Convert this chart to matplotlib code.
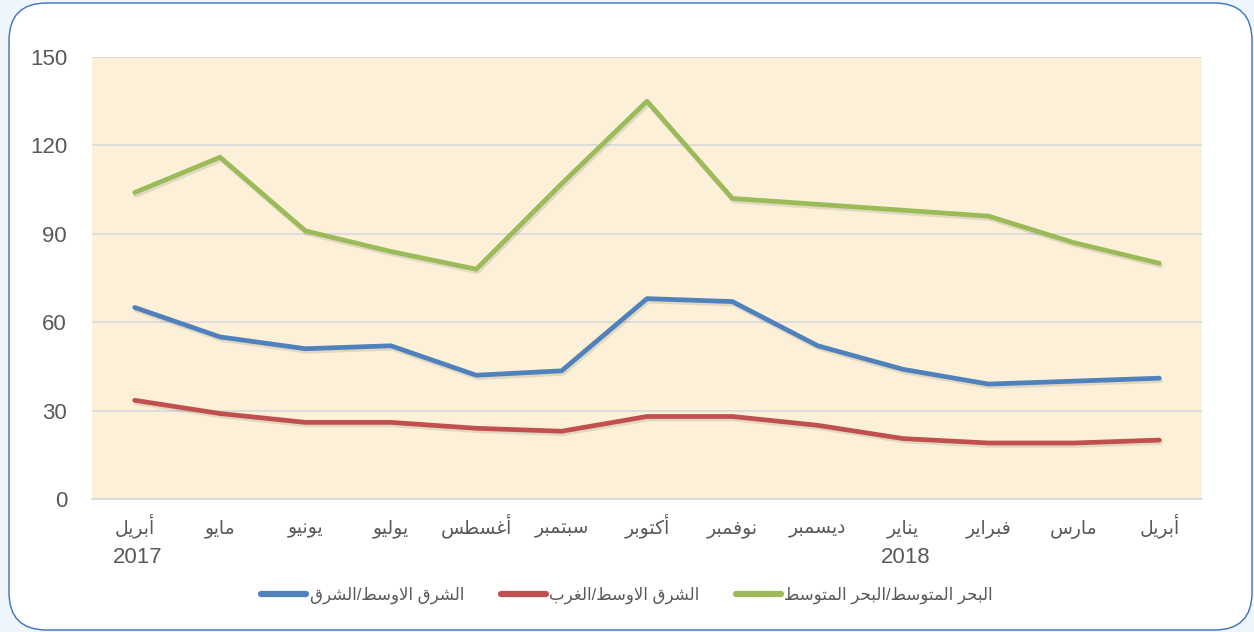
import numpy as np
import matplotlib
matplotlib.use('Agg')
import matplotlib.pyplot as plt
import matplotlib.patheffects as pe
from matplotlib.patches import FancyBboxPatch

# data
months = ['أبريل', 'مايو', 'يونيو', 'يوليو', 'أغسطس', 'سبتمبر', 'أكتوبر',
          'نوفمبر', 'ديسمبر', 'يناير', 'فبراير', 'مارس', 'أبريل']
years = {0: '2017', 9: '2018'}

east = [65, 55, 51, 52, 42, 43.5, 68, 67, 52, 44, 39, 40, 41]
west = [33.5, 29, 26, 26, 24, 23, 28, 28, 25, 20.5, 19, 19, 20]
med = [104, 116, 91, 84, 78, 107, 135, 102, 100, 98, 96, 87, 80]

series_names = ['الشرق الاوسط/الشرق', 'الشرق الاوسط/الغرب', 'البحر المتوسط/البحر المتوسط']
colors = ['#4F81BD', '#C0504D', '#9BBB59']
yticks = [0, 30, 60, 90, 120, 150]

# minimal arabic shaping (matplotlib has no shaper): iso, final, initial, medial
FORMS = {
    'ا': (0xFE8D, 0xFE8E, None, None),
    'أ': (0xFE83, 0xFE84, None, None),
    'ب': (0xFE8F, 0xFE90, 0xFE91, 0xFE92),
    'ت': (0xFE95, 0xFE96, 0xFE97, 0xFE98),
    'ح': (0xFEA1, 0xFEA2, 0xFEA3, 0xFEA4),
    'د': (0xFEA9, 0xFEAA, None, None),
    'ر': (0xFEAD, 0xFEAE, None, None),
    'س': (0xFEB1, 0xFEB2, 0xFEB3, 0xFEB4),
    'ش': (0xFEB5, 0xFEB6, 0xFEB7, 0xFEB8),
    'ط': (0xFEC1, 0xFEC2, 0xFEC3, 0xFEC4),
    'غ': (0xFECD, 0xFECE, 0xFECF, 0xFED0),
    'ف': (0xFED1, 0xFED2, 0xFED3, 0xFED4),
    'ق': (0xFED5, 0xFED6, 0xFED7, 0xFED8),
    'ك': (0xFED9, 0xFEDA, 0xFEDB, 0xFEDC),
    'ل': (0xFEDD, 0xFEDE, 0xFEDF, 0xFEE0),
    'م': (0xFEE1, 0xFEE2, 0xFEE3, 0xFEE4),
    'ن': (0xFEE5, 0xFEE6, 0xFEE7, 0xFEE8),
    'و': (0xFEED, 0xFEEE, None, None),
    'ي': (0xFEF1, 0xFEF2, 0xFEF3, 0xFEF4),
    'لا': (0xFEFB, 0xFEFC, None, None),
    'لأ': (0xFEF7, 0xFEF8, None, None),
}


def shape(text):
    units = []
    i = 0
    while i < len(text):
        if text[i] == 'ل' and i + 1 < len(text) and text[i + 1] in 'اأ':
            units.append(text[i:i + 2])
            i += 2
        else:
            units.append(text[i])
            i += 1

    def joins_next(u):
        return u in FORMS and FORMS[u][2] is not None

    out = []
    for k, u in enumerate(units):
        if u not in FORMS:
            out.append(u)
            continue
        prev_j = k > 0 and joins_next(units[k - 1])
        next_j = joins_next(u) and k + 1 < len(units) and units[k + 1] in FORMS
        f = FORMS[u]
        if prev_j and next_j:
            c = f[3]
        elif prev_j:
            c = f[1]
        elif next_j:
            c = f[2]
        else:
            c = f[0]
        out.append(chr(c))
    return ''.join(out)[::-1]


plt.rcParams['font.family'] = ['Liberation Sans', 'DejaVu Sans']
GREY = '#595959'

fig = plt.figure(figsize=(12.54, 6.32), dpi=100)
fig.patch.set_facecolor('#EEF5FC')

# rounded chart-area frame
frame = FancyBboxPatch((9 / 1254, 2 / 632), 1243 / 1254, 627 / 632,
                       boxstyle='round,pad=0,rounding_size=0.03',
                       transform=fig.transFigure, facecolor='white',
                       edgecolor='#3A6FC4', linewidth=1.0,
                       mutation_aspect=1254 / 632, zorder=-5)
fig.patches.append(frame)

ax = fig.add_axes([92 / 1254, 1 - 499 / 632, 1110 / 1254, 442 / 632])
ax.set_zorder(2)
ax.set_facecolor('#FCF0D8')

x = np.arange(len(months))
for vals, name, col in zip([east, west, med], series_names, colors):
    ax.plot(x, vals, color=col, lw=3.4, solid_capstyle='round',
            solid_joinstyle='round', label=shape(name), zorder=3,
            path_effects=[pe.SimpleLineShadow(offset=(1, -1.8), alpha=0.1),
                          pe.Normal()])

ax.set_xlim(-0.5, len(months) - 0.5)
ax.set_ylim(0, 150)
ax.set_yticks(yticks)
ax.yaxis.grid(True, color='#D9D9D9', lw=1.2)
ax.set_axisbelow(True)
for s in ['top', 'right', 'left']:
    ax.spines[s].set_visible(False)
ax.spines['bottom'].set_color('#D9D9D9')
ax.spines['bottom'].set_linewidth(1.2)

ax.set_xticks(x)
ax.set_xticklabels([shape(m) for m in months], fontsize=13.5, color=GREY,
                   va='baseline')
ax.tick_params(axis='x', length=0, pad=25)
ax.tick_params(axis='y', length=0, pad=18, labelsize=16, labelcolor=GREY)

# year line under the first month of each year
for i, yr in years.items():
    ax.annotate(yr, xy=(x[i], 0), xycoords=('data', 'axes fraction'),
                xytext=(2, -46), textcoords='offset points',
                ha='center', va='baseline', fontsize=16, color=GREY,
                annotation_clip=False)

leg = fig.legend(loc='center', bbox_to_anchor=(0.5, 1 - 595 / 632), ncol=3,
                 frameon=False, fontsize=12, handlelength=2.7,
                 handletextpad=0.2, columnspacing=2.2)
leg.set_zorder(3)
for t in leg.get_texts():
    t.set_color(GREY)
for h in leg.get_lines():
    h.set_linewidth(4.5)
    h.set_path_effects([])

fig.savefig('out.png', dpi=100, facecolor=fig.get_facecolor())
